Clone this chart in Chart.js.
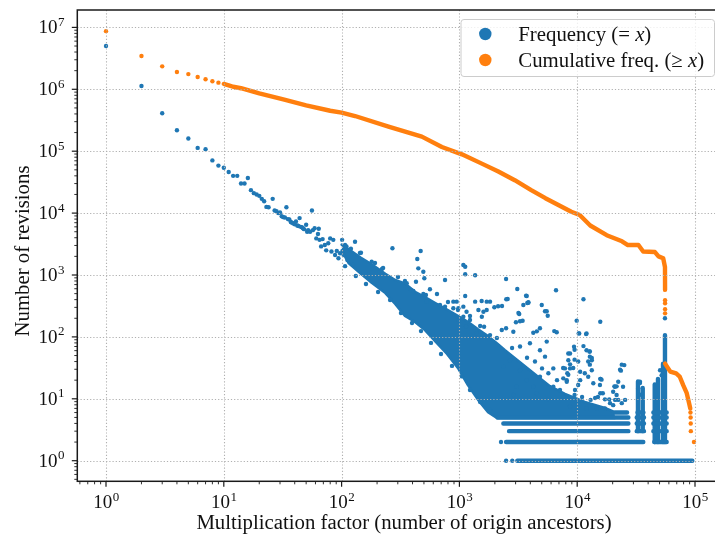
<!DOCTYPE html>
<html>
<head>
<meta charset="utf-8">
<script src="https://cdn.jsdelivr.net/npm/chart.js@4.4.1/dist/chart.umd.min.js"></script>
<style>
  html, body { margin: 0; padding: 0; background: #fff; overflow: hidden; }
  canvas { display: block; }
</style>
</head>
<body>
<canvas id="grafico" width="730" height="538" style="width:730px;height:538px"></canvas>
<script>
// límites de los ejes (log)
const xMin = 0.5706, xMax = 169500;
const yMin = 0.4648, yMax = 1.91e7;

// marcas principales y sus exponentes
const decadasX = [1, 10, 100, 1000, 10000, 100000];
const expX = ['0', '1', '2', '3', '4', '5'];
const decadasY = [1, 10, 100, 1000, 10000, 100000, 1000000, 10000000];
const expY = ['0', '1', '2', '3', '4', '5', '6', '7'];

const tituloX = 'Multiplication factor (number of origin ancestors)';
const tituloY = 'Number of revisions';

// frecuencia (= x): primeros valores, uno por x
const frecCabezaX = [1, 2, 3, 4, 5, 6, 7, 8, 9, 10, 11, 12, 13, 14, 15, 16, 17, 18, 19, 20,
  21, 22, 23, 24, 26, 27, 28, 29, 30, 31, 32, 33, 34, 35, 36, 37, 38, 39, 40, 41, 42, 43, 44, 45,
  46, 47, 48, 50, 51, 52, 54, 56, 57, 59, 61, 63, 64, 65, 67, 69, 72, 74, 77, 80, 82, 85, 88, 91, 94, 97];
const frecCabezaY = [5.0e6, 1.13e6, 4.1e5, 2.18e5, 1.6e5, 1.13e5, 1.08e5, 7.1e4, 5.85e4, 5.4e4,
  4.6e4, 4.0e4, 4.0e4, 3.0e4, 3.0e4, 3.7e4, 2.35e4, 2.1e4, 2.0e4, 1.9e4,
  1.7e4, 1.55e4, 1.26e4, 1.24e4, 1.7e4, 1.1e4, 1.07e4, 1.0e4, 1.02e4, 8900, 8600, 8500, 12400, 8000,
  7900, 7200, 7000, 6800, 6600, 7300, 6300, 6200, 8300, 6000,
  5900, 5700, 5500, 6500, 5000, 5300, 5000, 11000, 5300, 5700, 3900, 4600, 5600, 3700, 2900, 3800,
  3050, 2500, 3250, 3900, 2400, 3700, 2100, 2450, 1860, 2240];

// frecuencia: puntos sueltos alrededor de la nube [x, y]
const frecSueltos = [
  [120, 2660], [130, 3450], [146, 2290], [180, 1640], [220, 1250], [270, 2700],
  [107, 3050], [143, 2270], [192, 1560], [225, 1300], [301, 929], [345, 800], [645, 493], [800, 366],
  [973, 272], [1230, 218], [1500, 150], [2080, 96], [2800, 66], [3750, 46], [5030, 31], [6740, 20],
  [9580, 13.9], [14200, 10.3], [101, 3700], [104, 2100], [110, 2900], [112, 1750], [125, 1450],
  [107, 1390], [132, 964], [161, 716], [204, 531], [258, 395], [319, 243], [396, 168], [472, 124],
  [574, 80], [698, 53], [865, 34], [1050, 23], [1230, 13.9], [1500, 8.9], [1820, 6.6],
  [469, 2440], [439, 1810], [448, 1280], [494, 1130], [504, 885], [1080, 1450], [1120, 1360],
  [1120, 1030], [1360, 990], [755, 830], [2490, 861], [3100, 594], [3730, 458], [1120, 458],
  [1360, 371], [1545, 380], [1705, 371], [1820, 371], [1980, 301], [2300, 316], [2570, 410],
  [3490, 327], [3220, 234], [3440, 182], [3020, 172], [3850, 363], [2490, 138], [2290, 129],
  [2870, 121], [1620, 146], [1820, 107], [1550, 212], [1600, 255], [1705, 272], [1450, 272],
  [357, 735], [428, 780], [388, 572], [406, 552], [494, 493], [520, 475], [562, 587], [527, 371],
  [684, 328], [755, 308], [888, 371], [948, 371], [888, 290], [980, 290], [1080, 308], [1150, 255],
  [1080, 212], [980, 188], [1230, 188], [1140, 146], [1400, 114],
  [3680, 463], [6610, 566], [11300, 405], [15700, 176], [5000, 327], [5330, 259], [5620, 220],
  [3850, 357], [4830, 138], [4240, 117], [6390, 124], [6700, 119], [9900, 183], [10300, 114],
  [12000, 114], [11300, 71], [12000, 61], [12800, 58], [9400, 69.5], [8690, 54], [8410, 42],
  [8690, 31], [8150, 20], [13300, 42], [13300, 29], [12400, 22.7], [15700, 21], [13700, 17.8],
  [20900, 15.7], [21600, 11.5],
  [3970, 79], [4830, 61], [4380, 40], [5510, 84], [5330, 48], [6270, 31], [5690, 25.8], [4830, 22.7],
  [6270, 15.7], [7140, 13.9], [7620, 10.8], [2690, 42], [2360, 33], [3270, 70], [3270, 29],
  [3730, 20], [3060, 15.7], [4240, 15.7], [4530, 12.3], [2870, 11.5], [5510, 9.6], [8690, 7.5],
  [12000, 7.0], [14600, 7.0], [17200, 7.0], [20200, 7.9],
  [20200, 13], [22300, 18.9], [23500, 28.5], [25100, 35], [24500, 15.7], [22300, 9.6], [23900, 8.5],
  [21000, 9.6], [25500, 9.6], [15700, 12.3], [17200, 9.8], [18700, 9.8], [15800, 21], [10400, 114],
  [11900, 111], [8400, 54], [8700, 36], [8240, 25.8], [7870, 31], [7620, 21.4], [8150, 18.9],
  [12700, 58], [12800, 48], [10200, 40], [10600, 27.4], [11600, 25.8], [12400, 40], [10600, 20],
  [10200, 16.7], [15600, 16.7], [34100, 18.9], [33000, 14.8], [50500, 29], [52100, 24], [55600, 200],
  [3770, 353], [2500, 405], [2130, 312], [3170, 243], [3270, 179], [5510, 259], [4540, 123],
  [13300, 45.6], [12800, 35.6], [9500, 62], [9500, 42.9], [9250, 31.4], [8400, 24.5], [7600, 31.4],
  [23900, 35.6], [23100, 29.5], [21600, 15.9], [20700, 15.9], [34100, 18], [34100, 11.6], [16100, 20.4],
  [13000, 9.6], [15000, 10.7], [19000, 8.5], [11000, 10.7], [9500, 11.5], [16500, 12.3],
  [2490, 1], [2810, 1], [2255, 2]
];

// núcleo denso de la nube: borde superior e inferior
const nubeX = [100, 115, 145, 180, 235, 285, 345, 420, 510, 630, 785, 970, 1180, 1440, 1750, 2080,
  2440, 3270, 4380, 5870, 7870, 11600, 17200, 20900];
const nubeAlta = [3100, 2610, 1920, 1490, 1050, 830, 730, 535, 441, 350, 277, 219, 175, 133, 103, 79,
  61, 39, 25, 16, 12, 8.9, 7.1, 6.1];
const nubeBaja = [2500, 1540, 1060, 750, 510, 340, 218, 174, 129, 83, 53, 31.5, 16.7, 9.6, 6.1, 4.9,
  4.9, 4.9, 4.9, 4.9, 4.9, 4.9, 4.9, 4.9];

// filas de conteos pequeños (y = 1..6): tramos [desde, hasta]
const filasY = [1, 2, 3, 4, 5, 6];
const filasTramos = [
  [[3100, 94900]],
  [[2490, 36400], [45100, 57500]],
  [[2640, 27200], [32000, 36900], [44300, 50500], [52000, 57500]],
  [[2360, 27200], [32000, 36900], [44300, 50500], [52000, 57500]],
  [[2110, 27200], [32000, 36900], [44300, 50500], [52000, 57500]],
  [[21000, 26500], [32500, 36500], [44300, 50500], [52000, 57500]]
];

// columnas verticales a la derecha
const columnasX = [32800, 36000, 45500, 48500, 53500, 55600];
const columnasDesde = [3, 3, 2, 2, 2, 2];
const columnasHasta = [19, 15, 17, 21, 37, 107];

// frecuencia acumulada (>= x)
const acumPuntosX = [1, 2, 3, 4, 5, 6, 7, 8, 9, 55700, 55700, 55700, 55700, 91500, 91800, 92000, 92200, 98000];
const acumPuntosY = [8.7e6, 3.45e6, 2.35e6, 1.9e6, 1.76e6, 1.58e6, 1.45e6, 1.35e6, 1.28e6,
  390, 350, 280, 240, 6, 5, 4, 3, 2];
const acumLineaX = [10, 11, 12, 14, 20, 32, 50, 80, 100, 130, 250, 480, 710, 1050, 1550, 2140, 2950,
  4070, 5370, 6920, 8910, 10500, 12900, 17800, 24000, 26900, 33100, 36300, 45700, 49000, 53700, 55600, 55700];
const acumLineaY = [1.22e6, 1.16e6, 1.1e6, 1.04e6, 8.6e5, 6.9e5, 5.5e5, 4.5e5, 4.2e5, 3.7e5, 2.5e5,
  1.72e5, 1.17e5, 8.9e4, 6.3e4, 4.7e4, 3.4e4, 2.35e4, 1.74e4, 1.35e4, 1.05e4, 9300, 6300, 4400, 3500,
  3050, 3050, 2400, 2350, 2000, 1860, 1350, 575];
const acumColaX = [55700, 61700, 69200, 74100, 79400, 85100, 89100, 91200];
const acumColaY = [37, 27.5, 25.7, 22.9, 16.6, 12.3, 8.5, 7];

const leyenda = [
  { color: '#1f77b4', partes: [['Frequency (= ', false], ['x', true], [')', false]] },
  { color: '#ff7f0e', partes: [['Cumulative freq. (≥ ', false], ['x', true], [')', false]] }
];

const azul = '#1f77b4';
const naranja = '#ff7f0e';
const FUENTE = '"Liberation Serif", "DejaVu Serif", serif';
const TAM = 19;       // etiquetas de marcas
const TAM_EXP = 13;
const TAM_TXT = 20.8; // títulos y leyenda

function pares(xs, ys) {
  return xs.map((x, i) => ({ x: x, y: ys[i] }));
}

const datosFilas = [];
filasY.forEach((fy, i) => {
  filasTramos[i].forEach(t => {
    datosFilas.push({ x: t[0], y: fy }, { x: t[1], y: fy }, { x: t[1], y: null });
  });
});

const datosColumnas = [];
columnasX.forEach((cx, i) => {
  datosColumnas.push({ x: cx, y: columnasDesde[i] }, { x: cx, y: columnasHasta[i] }, { x: cx, y: null });
});

const datosSueltos = pares(frecCabezaX, frecCabezaY).concat(frecSueltos.map(p => ({ x: p[0], y: p[1] })));

const dibujoEjes = {
  id: 'dibujoEjes',
  afterDatasetsDraw(chart) {
    const { ctx, chartArea: a, scales: { x, y } } = chart;
    ctx.save();

    // rejilla punteada
    ctx.strokeStyle = '#b0b0b0';
    ctx.lineWidth = 1.1;
    ctx.setLineDash([1.2, 2]);
    decadasX.forEach(v => {
      const px = Math.round(x.getPixelForValue(v)) + 0.5;
      ctx.beginPath(); ctx.moveTo(px, a.top); ctx.lineTo(px, a.bottom); ctx.stroke();
    });
    decadasY.forEach(v => {
      const py = Math.round(y.getPixelForValue(v)) + 0.5;
      ctx.beginPath(); ctx.moveTo(a.left, py); ctx.lineTo(a.right, py); ctx.stroke();
    });
    ctx.setLineDash([]);

    // marco
    ctx.strokeStyle = '#1a1a1a';
    ctx.lineWidth = 1.5;
    ctx.strokeRect(a.left, a.top, a.right - a.left, a.bottom - a.top);

    // marcas menores y mayores
    function marcas(escala, min, max, dibuja) {
      for (let e = Math.floor(Math.log10(min)); e <= Math.ceil(Math.log10(max)); e++) {
        for (let m = 1; m <= 9; m++) {
          const v = m * Math.pow(10, e);
          if (v < min || v > max) continue;
          dibuja(escala.getPixelForValue(v), m === 1);
        }
      }
    }
    marcas(x, xMin, xMax, (px, mayor) => {
      ctx.lineWidth = mayor ? 1.2 : 0.9;
      ctx.beginPath(); ctx.moveTo(px, a.bottom); ctx.lineTo(px, a.bottom + (mayor ? 5.5 : 3)); ctx.stroke();
    });
    marcas(y, yMin, yMax, (py, mayor) => {
      ctx.lineWidth = mayor ? 1.2 : 0.9;
      ctx.beginPath(); ctx.moveTo(a.left, py); ctx.lineTo(a.left - (mayor ? 5.5 : 3), py); ctx.stroke();
    });

    // etiquetas 10^n
    ctx.fillStyle = '#111';
    ctx.textBaseline = 'alphabetic';
    ctx.textAlign = 'left';
    function potencia(exp, px, py, centrado) {
      ctx.font = TAM + 'px ' + FUENTE;
      const wb = ctx.measureText('10').width;
      ctx.font = TAM_EXP + 'px ' + FUENTE;
      const we = ctx.measureText(exp).width;
      const x0 = centrado ? px - (wb + we) / 2 : px - wb - we;
      ctx.font = TAM + 'px ' + FUENTE;
      ctx.fillText('10', x0, py);
      ctx.font = TAM_EXP + 'px ' + FUENTE;
      ctx.fillText(exp, x0 + wb + 0.5, py - 7.5);
    }
    decadasX.forEach((v, i) => potencia(expX[i], x.getPixelForValue(v), 508, true));
    decadasY.forEach((v, i) => potencia(expY[i], 64, y.getPixelForValue(v) + 6, false));

    // títulos
    ctx.font = TAM_TXT + 'px ' + FUENTE;
    ctx.textAlign = 'center';
    ctx.fillText(tituloX, 404, 529);
    ctx.save();
    ctx.translate(28.5, 251);
    ctx.rotate(-Math.PI / 2);
    ctx.fillText(tituloY, 0, 0);
    ctx.restore();

    // leyenda
    const lx = 461, ly = 19.5, lw = 253.5, lh = 57;
    ctx.beginPath();
    ctx.roundRect(lx, ly, lw, lh, 3);
    ctx.fillStyle = 'rgba(255,255,255,0.8)';
    ctx.fill();
    ctx.strokeStyle = '#cccccc';
    ctx.lineWidth = 1;
    ctx.stroke();
    ctx.textAlign = 'left';
    leyenda.forEach((e, i) => {
      const cy = 34 + i * 26;
      ctx.fillStyle = e.color;
      ctx.beginPath(); ctx.arc(485.3, cy, 6.2, 0, Math.PI * 2); ctx.fill();
      ctx.fillStyle = '#111';
      let cx = 518.3;
      e.partes.forEach(([t, it]) => {
        ctx.font = (it ? 'italic ' : '') + TAM_TXT + 'px ' + FUENTE;
        ctx.fillText(t, cx, cy + 6.8);
        cx += ctx.measureText(t).width;
      });
    });
    ctx.restore();
  }
};

const linea = (datos, color, ancho, orden) => ({
  type: 'line', data: datos, borderColor: color, backgroundColor: color, borderWidth: ancho,
  pointRadius: 0, borderCapStyle: 'round', borderJoinStyle: 'round', tension: 0,
  spanGaps: false, fill: false, order: orden
});

new Chart(document.getElementById('grafico').getContext('2d'), {
  type: 'scatter',
  data: {
    datasets: [
      { label: 'Cumulative freq. (≥ x)', data: pares(acumPuntosX, acumPuntosY), backgroundColor: naranja,
        pointRadius: 2.2, pointBorderWidth: 0, order: 0 },
      linea(pares(acumLineaX, acumLineaY), naranja, 4.4, 0),
      linea(pares(acumColaX, acumColaY), naranja, 4.4, 0),
      { label: 'Frequency (= x)', data: datosSueltos, backgroundColor: azul,
        pointRadius: 2.2, pointBorderWidth: 0, order: 1 },
      linea(datosFilas, azul, 4.4, 1),
      linea(datosColumnas, azul, 4.4, 1),
      linea(pares(nubeX, nubeBaja), azul, 2.5, 2),
      Object.assign(linea(pares(nubeX, nubeAlta), azul, 2.5, 2), { fill: '-1' })
    ]
  },
  options: {
    responsive: false,
    animation: false,
    layout: { padding: { top: 10, right: 8, bottom: 0, left: 0 } },
    plugins: { legend: { display: false }, tooltip: { enabled: false } },
    scales: {
      x: {
        type: 'logarithmic', min: xMin, max: xMax,
        ticks: { display: false }, grid: { display: false }, border: { display: false },
        afterFit(s) { s.height = 56.7; }
      },
      y: {
        type: 'logarithmic', min: yMin, max: yMax,
        ticks: { display: false }, grid: { display: false }, border: { display: false },
        afterFit(s) { s.width = 77.3; }
      }
    }
  },
  plugins: [dibujoEjes]
});
</script>
</body>
</html>
